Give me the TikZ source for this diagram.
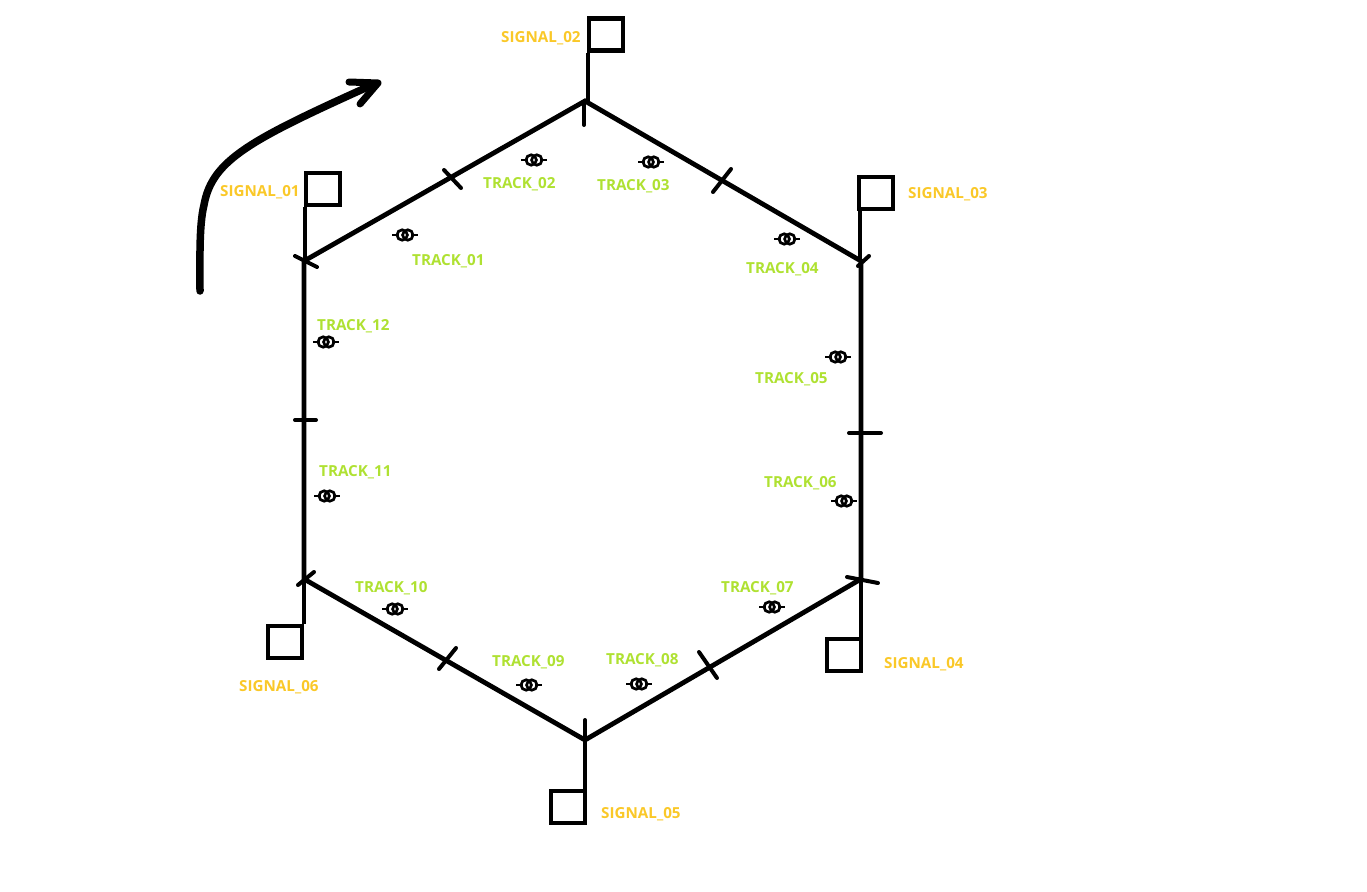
\documentclass[tikz,border=0pt]{standalone}
\usepackage{fontspec}
\setmainfont{Open Sans}
\definecolor{sigc}{RGB}{250,200,40}
\definecolor{trkc}{RGB}{175,225,50}
\tikzset{x=1pt,y=-1pt,
  rail/.style={line width=4.8pt,line cap=round,black},
  stem/.style={line width=4.8pt,black},
  tick/.style={line width=4pt,line cap=round,black},
  sigbox/.style={draw=black,line width=4.6pt,inner sep=0pt,minimum width=34pt,minimum height=32pt},
  siglabel/.style={text=sigc,font=\fontsize{15.2}{16}\selectfont\bfseries,inner sep=0pt},
  trklabel/.style={text=trkc,font=\fontsize{15.2}{16}\selectfont\bfseries,inner sep=0pt},
  sensor/.pic={
    \draw[line width=1.2pt] (-13,0) -- (-6,0) (6,0) -- (13,0);
    \draw[line width=2.7pt] (-2.8,0) circle[radius=5.2];
    \draw[line width=2.7pt] (2.8,0) circle[radius=5.2];
  }
}
\begin{document}
\begin{tikzpicture}
\useasboundingbox (0,0) rectangle (1367,891);
\coordinate (A) at (304,261);
\coordinate (B) at (585,101);
\coordinate (C) at (861,261);
\coordinate (D) at (861,579);
\coordinate (E) at (585,740);
\coordinate (F) at (304,579);
\coordinate (Bs) at (588,101);
\coordinate (As) at (305,261);
\coordinate (Cs) at (860,261);
% signals
\node[sigbox] (s1) at (323,189) {};
\node[sigbox] (s2) at (606,34.5) {};
\node[sigbox] (s3) at (876,193) {};
\node[sigbox] (s4) at (844,655) {};
\node[sigbox] (s5) at (568,807) {};
\node[sigbox] (s6) at (285,642) {};
% hexagon
\draw[rail] (A) -- (B) -- (C) -- (D) -- (E) -- (F) -- cycle;
% stems
\draw[stem] (As) -- (As |- s1.south);
\draw[stem] (Bs) -- (Bs |- s2.south);
\draw[stem] (Cs) -- (Cs |- s3.south);
\draw[stem] (D) -- (D |- s4.north);
\draw[stem] (E) -- (E |- s5.north);
\draw[stem] (F) -- (F |- s6.north);
% ticks
\draw[tick] (295,256) -- (317,267);
\draw[tick] (584,102) -- (584,125);
\draw[tick] (858,266) -- (869,256);
\draw[tick] (847,577) -- (878,583);
\draw[tick] (585,720) -- (585,740);
\draw[tick] (298,585) -- (314,572);
\draw[tick] (444,170) -- (461,188);
\draw[tick] (713,192) -- (731,169);
\draw[tick] (849,433) -- (881,433);
\draw[tick] (699,652) -- (717,678);
\draw[tick] (439,669) -- (456,648);
\draw[tick] (295,420) -- (316,420);
% sensors
\path (405,235) pic {sensor};
\path (534,160) pic {sensor};
\path (651,162) pic {sensor};
\path (787,239) pic {sensor};
\path (838,357) pic {sensor};
\path (844,501) pic {sensor};
\path (772,607) pic {sensor};
\path (639,684) pic {sensor};
\path (529,685) pic {sensor};
\path (395,609) pic {sensor};
\path (327,496) pic {sensor};
\path (326,342) pic {sensor};
% labels
\node[siglabel,anchor=west] (l1) at (220,192) {SIGNAL\_01};
\node[siglabel,anchor=west] (l2) at (501,38) {SIGNAL\_02};
\node[siglabel,anchor=west] (l3) at (908,194) {SIGNAL\_03};
\node[siglabel,anchor=west] (l4) at (884,664) {SIGNAL\_04};
\node[siglabel,anchor=west] (l5) at (601,814) {SIGNAL\_05};
\node[siglabel,anchor=west] (l6) at (239,687) {SIGNAL\_06};
\node[trklabel,anchor=west] (t1) at (412,261) {TRACK\_01};
\node[trklabel,anchor=west] (t2) at (483,184) {TRACK\_02};
\node[trklabel,anchor=west] (t3) at (597,186) {TRACK\_03};
\node[trklabel,anchor=west] (t4) at (746,269) {TRACK\_04};
\node[trklabel,anchor=west] (t5) at (755,379) {TRACK\_05};
\node[trklabel,anchor=west] (t6) at (764,483) {TRACK\_06};
\node[trklabel,anchor=west] (t7) at (721,588) {TRACK\_07};
\node[trklabel,anchor=west] (t8) at (606,660) {TRACK\_08};
\node[trklabel,anchor=west] (t9) at (492,662) {TRACK\_09};
\node[trklabel,anchor=west] (t10) at (355,588) {TRACK\_10};
\node[trklabel,anchor=west] (t11) at (319,472) {TRACK\_11};
\node[trklabel,anchor=west] (t12) at (317,326) {TRACK\_12};
% direction arrow
\draw[line width=7.5pt,line cap=round,black] (200,291) .. controls (200,260) and (199,225) .. (204,205) .. controls (212,160) and (250,140) .. (372,85);
\draw[line width=7pt,line cap=round,line join=round,black] (349,82) -- (378,83) -- (360,104);
\end{tikzpicture}
\end{document}
